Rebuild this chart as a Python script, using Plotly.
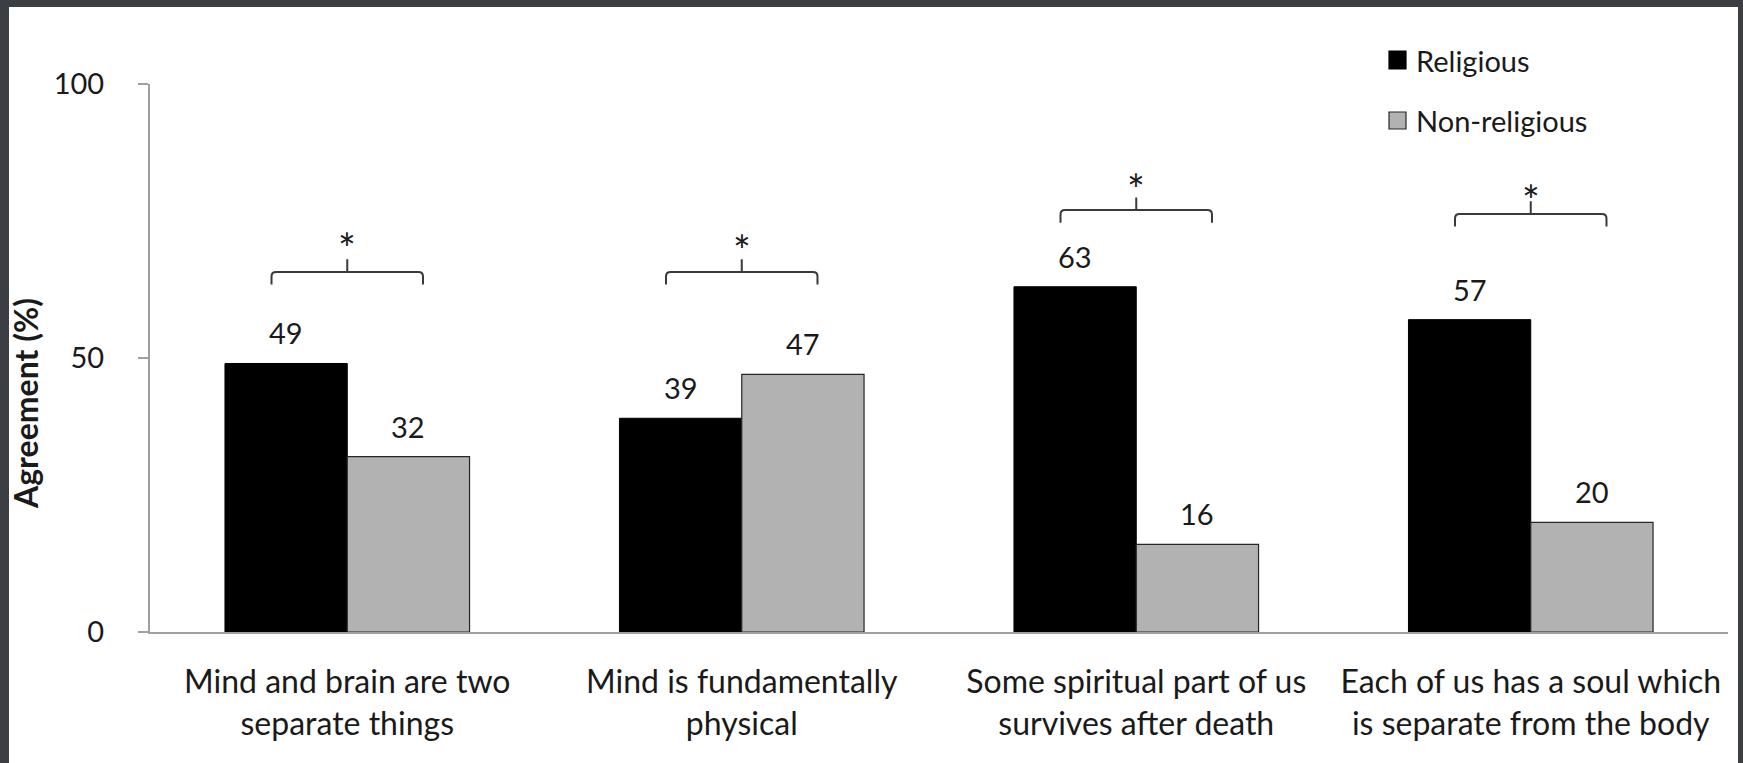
import plotly.graph_objects as go

# ---------------- data ----------------
categories = [
    "Mind and brain are two<br>separate things",
    "Mind is fundamentally<br>physical",
    "Some spiritual part of us<br>survives after death",
    "Each of us has a soul which<br>is separate from the body",
]
religious = [49, 39, 63, 57]
non_religious = [32, 47, 16, 20]
series_names = ["Religious", "Non-religious"]
significance = ["*", "*", "*", "*"]
y_ticks = [0, 50, 100]

# ---------------- layout geometry ----------------
W, H = 1743, 763
ML, MR, MT, MB = 150, 15, 84, 131
PW, PH = W - ML - MR, H - MT - MB

def px_x(px):
    return (px - ML) / PW

def px_y(py):
    return (H - MB - py) / PH

FONT = "Lato, 'Open Sans', sans-serif"
TXT = "#1a1a1a"
BAR_GAP = 0.38
bar_w = (1 - BAR_GAP) / 2

xs = list(range(len(categories)))

fig = go.Figure()
fig.add_trace(go.Bar(
    x=xs, y=religious, name=series_names[0],
    marker=dict(color="#000000", line=dict(color="#000000", width=1)),
    showlegend=False, hoverinfo="x+y",
))
fig.add_trace(go.Bar(
    x=xs, y=non_religious, name=series_names[1],
    marker=dict(color="#b2b2b2", line=dict(color="#262626", width=1.2)),
    showlegend=False, hoverinfo="x+y",
))

annotations = []
# value labels above bars
for i in xs:
    for val, off in ((religious[i], -bar_w / 2), (non_religious[i], bar_w / 2)):
        annotations.append(dict(
            x=i + off, y=val, xref="x", yref="y", text=str(val),
            showarrow=False, yanchor="bottom", xanchor="center", yshift=11,
            font=dict(family=FONT, size=29, color=TXT),
        ))

# significance brackets
bracket_level = [65.7, 65.7, 77.0, 76.3]
star_level = [71.8, 71.3, 82.4, 80.4]
half = 0.192
tip = 2.3
rx, ry = 0.012, 0.8
shapes = []
for i in xs:
    L = bracket_level[i]
    x0, x1, c = i - half, i + half, i
    path = (f"M {x0},{L - tip} L {x0},{L - ry} Q {x0},{L} {x0 + rx},{L} "
            f"L {x1 - rx},{L} Q {x1},{L} {x1},{L - ry} L {x1},{L - tip} "
            f"M {c},{L} L {c},{L + tip}")
    shapes.append(dict(type="path", xref="x", yref="y", path=path,
                       line=dict(color="#3a3a3a", width=2)))
    annotations.append(dict(
        x=c, y=star_level[i], xref="x", yref="y", text=significance[i],
        showarrow=False, yanchor="middle", xanchor="center", yshift=-9,
        font=dict(family=FONT, size=42, color=TXT),
    ))

# manual legend
legend_rows = [(51, 69, "#000000", "#000000"), (112, 129, "#b2b2b2", "#262626")]
for (top, bot, fill, edge), name in zip(legend_rows, series_names):
    shapes.append(dict(type="rect", xref="paper", yref="paper",
                       x0=px_x(1389), x1=px_x(1406), y0=px_y(bot), y1=px_y(top),
                       fillcolor=fill, line=dict(color=edge, width=1.2)))
    annotations.append(dict(
        x=px_x(1414), y=px_y((top + bot) / 2), xref="paper", yref="paper",
        text=name, showarrow=False, xanchor="left", yanchor="middle",
        font=dict(family=FONT, size=29, color=TXT),
    ))

# y axis title
annotations.append(dict(
    x=px_x(25), y=px_y(403), xref="paper", yref="paper",
    text="<b>Agreement (%)</b>", textangle=-90, showarrow=False,
    xanchor="center", yanchor="middle",
    font=dict(family=FONT, size=32, color=TXT),
))

# dark frame strips
FRAME = "#3b3f43"
for (a, b, c2, d) in [(0, W, 0, 7), (0, 9, 0, H), (1738, W, 0, H)]:
    shapes.append(dict(type="rect", xref="paper", yref="paper",
                       x0=px_x(a), x1=px_x(b), y0=px_y(d), y1=px_y(c2),
                       fillcolor=FRAME, line=dict(width=0), layer="above"))

fig.update_layout(
    width=W, height=H,
    margin=dict(l=ML, r=MR, t=MT, b=MB, pad=0),
    paper_bgcolor="white", plot_bgcolor="white",
    barmode="group", bargap=BAR_GAP, bargroupgap=0,
    font=dict(family=FONT, color=TXT),
    showlegend=False,
    shapes=shapes, annotations=annotations,
    xaxis=dict(
        range=[-0.5, 3.5], tickmode="array", tickvals=xs, ticktext=categories,
        showline=True, linecolor="#a0a0a0", linewidth=2, ticks="",
        showgrid=False, zeroline=False,
        tickfont=dict(family=FONT, size=32, color=TXT),
        ticklabelstandoff=21,
    ),
    yaxis=dict(
        range=[0, 100], tickmode="array", tickvals=y_ticks,
        showline=True, linecolor="#a0a0a0", linewidth=2,
        ticks="outside", ticklen=10, tickwidth=2, tickcolor="#a0a0a0",
        showgrid=False, zeroline=False,
        tickfont=dict(family=FONT, size=29, color=TXT),
        ticklabelstandoff=28,
    ),
)

fig.write_html(
    "out.html",
    config={"displayModeBar": False},
    post_script="document.body.style.margin='0';document.body.style.overflow='hidden';",
)
